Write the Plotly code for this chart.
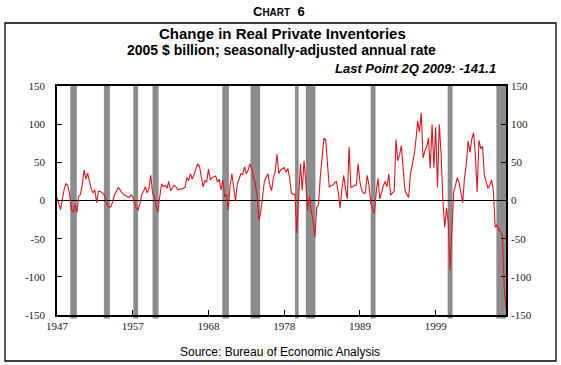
import plotly.graph_objects as go
import pandas as pd

# ---------------- data ----------------
start_quarter = "1947-01-01"
inventory_change = [
    4, -6, -12, 2,        # 1947
    15, 22, 20, 8,        # 1948
    -12, -15, -5, -16,    # 1949
    5, 8, 20, 40,         # 1950
    28, 36, 24, 15,       # 1951
    10, 14, -3, 12,       # 1952
    12, 10, 8, 2,         # 1953
    -6, -9, -8, 0,        # 1954
    8, 12, 17, 14,        # 1955
    10, 8, 6, 5,          # 1956
    4, 7, 5, -2,          # 1957
    -10, -12, -4, 8,      # 1958
    12, 18, 10, 16,       # 1959
    33, 10, 5, -8,        # 1960
    -15, 5, 22, 18,       # 1961
    20, 16, 25, 13,       # 1962
    16, 20, 18, 14,       # 1963
    15, 15, 16, 17,       # 1964
    30, 26, 35, 28,       # 1965
    34, 40, 48, 45,       # 1966
    30, 18, 26, 24,       # 1967
    41, 27, 30, 31,       # 1968
    32, 24, 28, 14,       # 1969
    27, 5, 8, -12,        # 1970
    20, 35, 20, -1,       # 1971
    22, 30, 35, 34,       # 1972
    44, 35, 40, 48,       # 1973
    42, 30, 22, 5,        # 1974
    -26, -15, 10, 25,     # 1975
    30, 35, 20, 13,       # 1976
    30, 38, 61, 35,       # 1977
    40, 41, 43, 37,       # 1978
    42, 30, 10, 8,        # 1979
    8, -43, 0, 48,        # 1980
    13, 52, 25, -13,      # 1981
    5, -15, -25, -48,     # 1982
    -9, -6, 30, 60,       # 1983
    81, 80, 45, 17,       # 1984
    20, 20, 23, 25,       # 1985
    10, -10, 15, 33,      # 1986
    15, 2, 70, 17,        # 1987
    18, 20, 20, 48,       # 1988
    24, 14, 9, 10,        # 1989
    33, 20, -3, -10,      # 1990
    -17, 10, 29, 2,       # 1991
    12, 19, 25, 18,       # 1992
    35, 7, 10, 12,        # 1993
    80, 52, 60, 72,       # 1994
    40, 13, 8, 4,         # 1995
    35, 45, 59, 78,       # 1996
    104, 90, 115, 56,     # 1997
    65, 70, 82, 42,       # 1998
    100, 43, 96, 17,      # 1999
    100, 61, 0, -35,      # 2000
    -10, -29, -91, -39,   # 2001
    11, 20, 30, 23,       # 2002
    10, -3, 30, 48,       # 2003
    78, 63, 80, 89,       # 2004
    60, 11, 79, 68,       # 2005
    71, 33, 25, 16,       # 2006
    20, 27, 13, -35,      # 2007
    -32, -38, -41, -45,   # 2008
    -114, -141.1,         # 2009
]

recession_start = ["1948-11-01", "1953-07-01", "1957-08-01", "1960-04-01",
                   "1969-12-01", "1973-11-01", "1980-01-01", "1981-07-01",
                   "1990-07-01", "2001-03-01", "2007-12-01"]
recession_end = ["1949-10-01", "1954-05-01", "1958-04-01", "1961-02-01",
                 "1970-11-01", "1975-03-01", "1980-07-01", "1982-11-01",
                 "1991-03-01", "2001-11-01", "2009-06-01"]

x_tick_dates = ["1947-01-01", "1957-07-01", "1968-01-01",
                "1978-07-01", "1989-01-01", "1999-07-01"]
x_tick_labels = ["1947", "1957", "1968", "1978", "1989", "1999"]
y_tick_values = [-150, -100, -50, 0, 50, 100, 150]
y_tick_labels = ["-150", "-100", "-50", "0", "50", "100", "150"]

quarters = pd.date_range(start_quarter, periods=len(inventory_change), freq="QS")

# ---------------- layout geometry ----------------
W, H = 561, 365
L, R, T, B = 57, 55, 86, 50
pw, ph = W - L - R, H - T - B


def px(x):
    return (x - L) / pw


def py(y):
    return (H - B - y) / ph


SANS = "Liberation Sans, Arial, sans-serif"
SERIF = "Liberation Serif, Times New Roman, serif"
RED = "#e0161e"
GRAY = "#8c8c8c"

fig = go.Figure()
fig.add_trace(go.Scatter(x=quarters, y=inventory_change, mode="lines",
                         line=dict(color=RED, width=1.1),
                         showlegend=False, hoverinfo="x+y"))
# invisible copy to anchor the right-hand axis
fig.add_trace(go.Scatter(x=quarters, y=inventory_change, mode="lines",
                         line=dict(color="rgba(0,0,0,0)", width=0),
                         yaxis="y2", showlegend=False, hoverinfo="skip"))

shapes = []
for s, e in zip(recession_start, recession_end):
    shapes.append(dict(type="rect", xref="x", yref="paper", x0=s, x1=e,
                       y0=-0.015, y1=1, fillcolor=GRAY, line_width=0,
                       layer="below"))
# outer frame
shapes.append(dict(type="rect", xref="paper", yref="paper",
                   x0=px(5), x1=px(556), y0=py(361), y1=py(23),
                   line=dict(color="black", width=1.3), fillcolor="rgba(0,0,0,0)"))

annotations = [
    dict(text="<b>C<span style='font-size:10px'>HART</span>  6</b>",
         x=px(279), y=py(12), font=dict(family=SANS, size=13, color="black")),
    dict(text="<b>Change in Real Private Inventories</b>",
         x=px(282), y=py(34), font=dict(family=SANS, size=15, color="black")),
    dict(text="<b>2005 $ billion; seasonally-adjusted annual rate</b>",
         x=px(281), y=py(50), font=dict(family=SANS, size=14, color="black")),
    dict(text="<b><i>Last Point 2Q 2009: -141.1</i></b>",
         x=px(498), y=py(69), xanchor="right",
         font=dict(family=SANS, size=13, color="black")),
    dict(text="Source: Bureau of Economic Analysis",
         x=px(280), y=py(352), font=dict(family=SANS, size=12, color="black")),
]
for a in annotations:
    a.setdefault("xanchor", "center")
    a.update(xref="paper", yref="paper", yanchor="middle", showarrow=False)

axis_font = dict(family=SERIF, size=11, color="#222")

fig.update_layout(
    width=W, height=H,
    margin=dict(l=L, r=R, t=T, b=B),
    paper_bgcolor="white", plot_bgcolor="white",
    shapes=shapes, annotations=annotations,
    xaxis=dict(type="date", range=[quarters[0], quarters[-1]],
               tickmode="array", tickvals=x_tick_dates, ticktext=x_tick_labels,
               ticks="inside", ticklen=5, tickcolor="black", tickwidth=1,
               showline=True, linecolor="black", linewidth=1.5, mirror=True,
               showgrid=False, zeroline=False, tickfont=axis_font),
    yaxis=dict(range=[-150, 150], tickmode="array", tickvals=y_tick_values,
               ticktext=y_tick_labels, ticks="inside", ticklen=5,
               tickcolor="black", tickwidth=1, showline=True,
               linecolor="black", linewidth=1.5, mirror=True, showgrid=False,
               zeroline=True, zerolinecolor="black", zerolinewidth=1.2,
               tickfont=axis_font, ticklabelstandoff=8),
    yaxis2=dict(range=[-150, 150], overlaying="y", side="right",
                tickmode="array", tickvals=y_tick_values,
                ticktext=y_tick_labels, ticks="inside", ticklen=5,
                tickcolor="black", tickwidth=1, showline=False,
                showgrid=False, zeroline=False, tickfont=axis_font,
                ticklabelstandoff=4),
)

fig.write_html(
    "out.html",
    config={"displayModeBar": False},
    post_script="document.body.style.margin='0';"
                "document.body.style.overflow='hidden';",
)
